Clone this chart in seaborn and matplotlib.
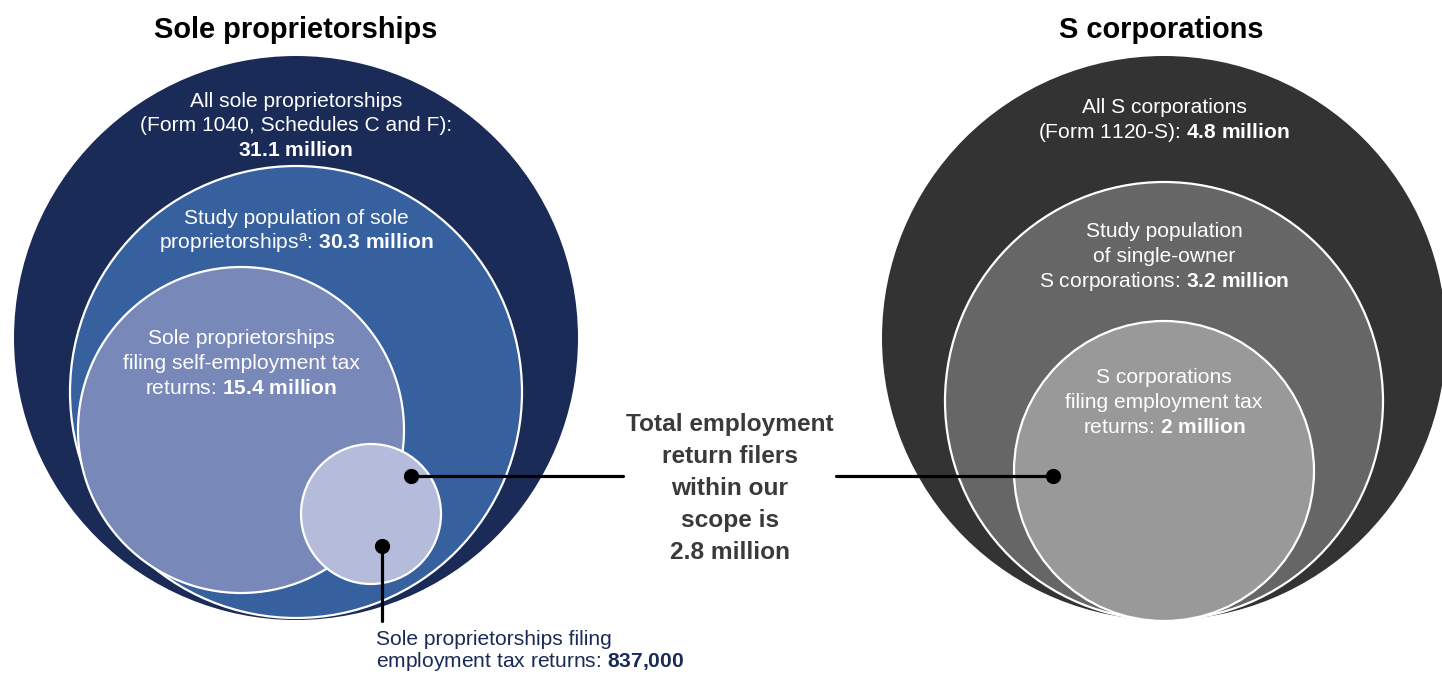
import matplotlib
matplotlib.use("Agg")
import matplotlib.pyplot as plt
from matplotlib.patches import Circle
import seaborn as sns
import pandas as pd

# ---- data (counts of filers) ----
sole_levels = ["all", "study", "self_employment", "employment"]
sole_counts_millions = [31.1, 30.3, 15.4, 0.837]
scorp_levels = ["all", "study", "employment"]
scorp_counts_millions = [4.8, 3.2, 2.0]
total_in_scope_millions = 2.8

panel_titles = ["Sole proprietorships", "S corporations"]

# ---- styling / layout ----
sns.set_theme(style="white")
plt.rcParams["font.family"] = ["Liberation Sans", "DejaVu Sans"]
plt.rcParams["mathtext.fontset"] = "custom"
plt.rcParams["mathtext.rm"] = "Liberation Sans"
plt.rcParams["mathtext.it"] = "Liberation Sans:italic"
plt.rcParams["mathtext.bf"] = "Liberation Sans:bold"

W, H = 1442, 674
fig = plt.figure(figsize=(W / 100, H / 100), dpi=100)
ax = fig.add_axes([0, 0, 1, 1])
ax.set_xlim(0, W)
ax.set_ylim(H, 0)
ax.set_aspect("equal")
ax.axis("off")

# nested circle geometry in pixel units: (cx, cy, r, colour)
sole_circles = [
    (296, 338, 282, "#1b2b57"),
    (296, 392, 226, "#37609e"),
    (241, 430, 163, "#7888b8"),
    (371, 514, 70, "#b4bbdb"),
]
scorp_circles = [
    (1164, 338, 282, "#333333"),
    (1164, 401, 219, "#666666"),
    (1164, 471, 150, "#999999"),
]

for circles in (sole_circles, scorp_circles):
    for i, (cx, cy, r, col) in enumerate(circles):
        ec = "none" if i == 0 else "white"
        ax.add_patch(Circle((cx, cy), r, facecolor=col, edgecolor=ec,
                            linewidth=1.6, zorder=1 + i))


def mill(v):
    return f"{v:g}"


def bold(s):
    return r"$\mathbf{" + s.replace(" ", r"\ ").replace(",", "{,}") + "}$"


txt_px = 21
fs = txt_px * 0.72
white = "white"

# titles
ax.text(296, 38, panel_titles[0], ha="center", va="baseline",
        fontsize=29 * 0.72, fontweight="bold", color="black")
ax.text(1161, 38, panel_titles[1], ha="center", va="baseline",
        fontsize=29 * 0.72, fontweight="bold", color="black")

# sole proprietorship labels
s_all, s_study, s_se, s_emp = sole_counts_millions
lines = [
    (296, 107, "All sole proprietorships"),
    (296, 131, "(Form 1040, Schedules C and F):"),
    (296, 156, bold(f"{mill(s_all)} million")),
    (296, 224, "Study population of sole"),
    (296, 249, r"proprietorships$^{\mathrm{a}}$: " + bold(f"{mill(s_study)} million")),
    (241, 344, "Sole proprietorships"),
    (241, 369, "filing self-employment tax"),
    (241, 394, "returns: " + bold(f"{mill(s_se)} million")),
]
# S corporation labels
c_all, c_study, c_emp = scorp_counts_millions
lines += [
    (1164, 113, "All S corporations"),
    (1164, 138, "(Form 1120-S): " + bold(f"{mill(c_all)} million")),
    (1164, 237, "Study population"),
    (1164, 262, "of single-owner"),
    (1164, 287, "S corporations: " + bold(f"{mill(c_study)} million")),
    (1164, 383, "S corporations"),
    (1164, 408, "filing employment tax"),
    (1164, 433, "returns: " + bold(f"{mill(c_emp)} million")),
]
for x, y, s in lines:
    ax.text(x, y, s, ha="center", va="baseline", fontsize=fs,
            color=white, zorder=10)

# callout below the smallest circle
navy = "#1b2b57"
ax.text(376, 645, "Sole proprietorships filing", ha="left", va="baseline",
        fontsize=fs, color=navy, zorder=10)
ax.text(376, 667, "employment tax returns: " + bold(f"{int(round(s_emp * 1e6)):,}"),
        ha="left", va="baseline", fontsize=fs, color=navy, zorder=10)

# central summary text
center_lines = ["Total employment", "return filers", "within our", "scope is",
                f"{mill(total_in_scope_millions)} million"]
for k, s in enumerate(center_lines):
    ax.text(730, 431 + k * 32, s, ha="center", va="baseline",
            fontsize=24.5 * 0.72, fontweight="bold", color="#3a3a3a",
            zorder=10)

# connector lines
lw = 2.3
ax.plot([411, 623], [476, 476], color="black", lw=lw, zorder=8)
ax.plot([836, 1053], [476, 476], color="black", lw=lw, zorder=8)
ax.plot([382, 382], [546, 621], color="black", lw=lw, zorder=8)

dots = pd.DataFrame({"x": [411, 382, 1053], "y": [476, 546, 476]})
sns.scatterplot(data=dots, x="x", y="y", ax=ax, s=120, color="black",
                edgecolor="black", linewidth=0, zorder=9, legend=False)
ax.set_xlim(0, W)
ax.set_ylim(H, 0)
ax.axis("off")

fig.savefig("out.png", dpi=100, facecolor="white")
